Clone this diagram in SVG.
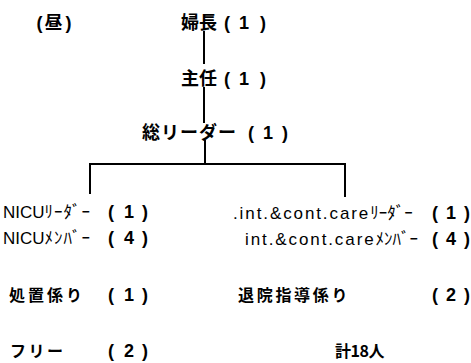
<svg xmlns="http://www.w3.org/2000/svg" width="471" height="363" viewBox="0 0 471 363">
<style>
.ln{stroke:#000;stroke-width:2;fill:none;stroke-linecap:square}
.jp{font-family:"Noto Sans CJK JP","Liberation Sans",sans-serif;font-size:18px;font-weight:bold;fill:#000}
.sm{font-size:16px}
.lt{font-family:"Liberation Sans","Noto Sans CJK JP",sans-serif;font-size:17px;font-weight:normal}
.kn{font-family:"Noto Sans CJK JP",sans-serif;font-size:17px;font-weight:normal}
.p{font-family:"Liberation Sans",sans-serif;font-size:18px;font-weight:bold;text-anchor:middle}
</style>
<rect width="471" height="363" fill="#fff"/>
<g id="connectors">
<line class="ln" x1="204" y1="32" x2="204" y2="63"/>
<line class="ln" x1="204" y1="88" x2="204" y2="122"/>
<line class="ln" x1="205" y1="141" x2="205" y2="164"/>
<line class="ln" x1="90" y1="164" x2="345" y2="164"/>
<line class="ln" x1="90" y1="164" x2="90" y2="193"/>
<line class="ln" x1="345" y1="164" x2="345" y2="196"/>
</g>
<g id="hiru"><text class="jp" y="29"><tspan class="p" x="39.5">(</tspan><tspan x="44.5">昼</tspan><tspan class="p" x="68.5">)</tspan></text></g>
<g id="fuchou"><text class="jp" y="29"><tspan x="181">婦長</tspan><tspan class="p" x="227">(</tspan><tspan class="p" x="244">1</tspan><tspan class="p" x="263">)</tspan></text></g>
<g id="shunin"><text class="jp" y="85"><tspan x="181">主任</tspan><tspan class="p" x="227">(</tspan><tspan class="p" x="244">1</tspan><tspan class="p" x="263">)</tspan></text></g>
<g id="so-leader"><text class="jp" y="139"><tspan x="142" letter-spacing="1">総リーダー</tspan><tspan class="p" x="251">(</tspan><tspan class="p" x="268">1</tspan><tspan class="p" x="285">)</tspan></text></g>
<g id="nicu-leader"><text class="jp" y="218"><tspan class="lt" x="3">NICU</tspan><tspan class="kn" letter-spacing="1">ﾘｰﾀﾞｰ</tspan><tspan class="p" x="111">(</tspan><tspan class="p" x="129">1</tspan><tspan class="p" x="145">)</tspan></text></g>
<g id="nicu-member"><text class="jp" y="244"><tspan class="lt" x="3">NICU</tspan><tspan class="kn" letter-spacing="1">ﾒﾝﾊﾞｰ</tspan><tspan class="p" x="111">(</tspan><tspan class="p" x="129">4</tspan><tspan class="p" x="145">)</tspan></text></g>
<g id="shochi"><text class="jp sm" y="301"><tspan x="9" letter-spacing="3">処置係り</tspan><tspan class="p" x="111">(</tspan><tspan class="p" x="129">1</tspan><tspan class="p" x="145">)</tspan></text></g>
<g id="free"><text class="jp sm" y="357"><tspan x="10" letter-spacing="2.5">フリー</tspan><tspan class="p" x="111">(</tspan><tspan class="p" x="129">2</tspan><tspan class="p" x="145">)</tspan></text></g>
<g id="int-leader"><text class="jp" y="219"><tspan class="lt" x="233" letter-spacing="1.9">.int.&amp;cont.care</tspan><tspan class="kn">ﾘｰﾀﾞｰ</tspan><tspan class="p" x="435">(</tspan><tspan class="p" x="451">1</tspan><tspan class="p" x="467">)</tspan></text></g>
<g id="int-member"><text class="jp" y="245"><tspan class="lt" x="245" letter-spacing="1.9">int.&amp;cont.care</tspan><tspan class="kn">ﾒﾝﾊﾞｰ</tspan><tspan class="p" x="435">(</tspan><tspan class="p" x="451">4</tspan><tspan class="p" x="467">)</tspan></text></g>
<g id="taiin"><text class="jp sm" y="301"><tspan x="238" letter-spacing="2.7">退院指導係り</tspan><tspan class="p" x="435">(</tspan><tspan class="p" x="451">2</tspan><tspan class="p" x="467">)</tspan></text></g>
<g id="total"><text class="jp sm" x="335" y="357" letter-spacing="-0.5">計18人</text></g>
</svg>
